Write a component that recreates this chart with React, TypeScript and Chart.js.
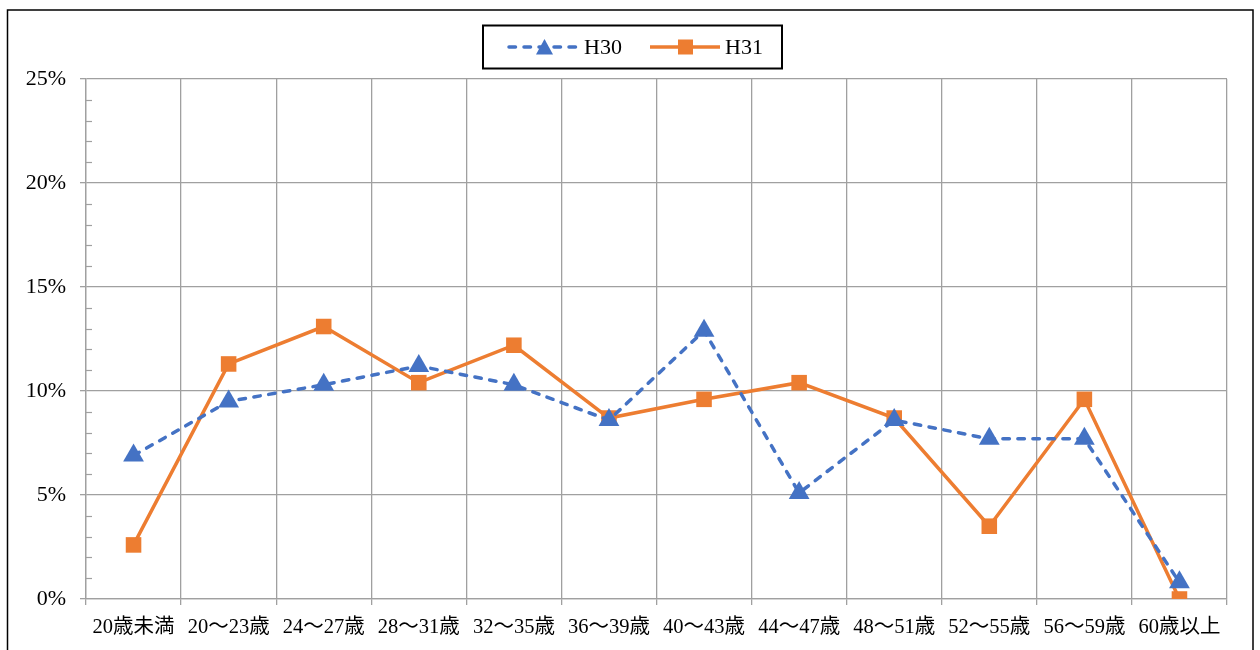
import React, { useEffect, useRef } from "react";
import { Chart, registerables } from "chart.js";

Chart.register(...registerables);

const categories = [
  "20歳未満",
  "20～23歳",
  "24～27歳",
  "28～31歳",
  "32～35歳",
  "36～39歳",
  "40～43歳",
  "44～47歳",
  "48～51歳",
  "52～55歳",
  "56～59歳",
  "60歳以上",
];
const seriesH30Label = "H30";
const seriesH31Label = "H31";
const seriesH30 = [6.9, 9.5, 10.3, 11.2, 10.3, 8.6, 12.9, 5.1, 8.6, 7.7, 7.7, 0.8];
const seriesH31 = [2.6, 11.3, 13.1, 10.4, 12.2, 8.7, 9.6, 10.4, 8.7, 3.5, 9.6, 0.0];
const yMax = 25;
const yStep = 5;
const yMinorStep = 1;

const FONT = "'Liberation Serif', 'Noto Sans CJK JP', serif";
const BLUE = "#4472C4";
const ORANGE = "#ED7D31";
const GRID = "#a0a0a0";

const decorPlugin = {
  id: "decor",
  afterDraw(chart: any) {
    const ctx = chart.ctx;
    const y = chart.scales.y;
    const area = chart.chartArea;
    ctx.save();
    // minor ticks on y axis (inside)
    ctx.strokeStyle = GRID;
    ctx.lineWidth = 1.2;
    for (let v = 0; v <= yMax + 1e-9; v += yMinorStep) {
      if (Math.abs(v % yStep) < 1e-9) continue;
      const py = Math.round(y.getPixelForValue(v)) + 0.5;
      ctx.beginPath();
      ctx.moveTo(area.left, py);
      ctx.lineTo(area.left + 6, py);
      ctx.stroke();
    }
    // outer border
    ctx.strokeStyle = "#000";
    ctx.lineWidth = 1.5;
    ctx.strokeRect(7.5, 10, 1245.5, 700);

    // legend
    const bx = 483, by = 25.5, bw = 299, bh = 43;
    ctx.fillStyle = "#fff";
    ctx.fillRect(bx, by, bw, bh);
    ctx.strokeStyle = "#000";
    ctx.lineWidth = 2;
    ctx.strokeRect(bx, by, bw, bh);
    const cy = 47;
    const items = [
      { ds: chart.data.datasets[0], x0: 509, x1: 579 },
      { ds: chart.data.datasets[1], x0: 650, x1: 720 },
    ];
    for (const it of items) {
      const ds = it.ds;
      ctx.save();
      ctx.strokeStyle = ds.borderColor;
      ctx.lineWidth = ds.borderWidth;
      ctx.setLineDash(ds.borderDash || []);
      ctx.lineCap = ds.borderCapStyle || "butt";
      ctx.beginPath();
      ctx.moveTo(it.x0, cy);
      ctx.lineTo(it.x1, cy);
      ctx.stroke();
      ctx.restore();
      const mx = (it.x0 + it.x1) / 2 + 0.5;
      ctx.fillStyle = ds.pointBackgroundColor;
      ctx.beginPath();
      if (ds.pointStyle === "triangle") {
        ctx.moveTo(mx, cy - 8);
        ctx.lineTo(mx + 8.5, cy + 7.5);
        ctx.lineTo(mx - 8.5, cy + 7.5);
        ctx.closePath();
      } else {
        ctx.rect(mx - 7.5, cy - 7.5, 15, 15);
      }
      ctx.fill();
      ctx.fillStyle = "#000";
      ctx.font = `22px ${FONT}`;
      ctx.textBaseline = "middle";
      ctx.textAlign = "left";
      ctx.fillText(ds.label, it.x1 + 5, cy + 1);
    }
    ctx.restore();
  },
};

export default function App() {
  const ref = useRef<HTMLCanvasElement | null>(null);
  useEffect(() => {
    if (!ref.current) return;
    const chart = new Chart(ref.current, {
      type: "line",
      data: {
        labels: categories,
        datasets: [
          {
            label: seriesH30Label,
            data: seriesH30,
            borderColor: BLUE,
            backgroundColor: BLUE,
            borderWidth: 3.5,
            borderDash: [6.5, 8.5],
            borderCapStyle: "round",
            pointStyle: "triangle",
            pointRadius: 12,
            pointHoverRadius: 12,
            pointBackgroundColor: BLUE,
            pointBorderColor: BLUE,
            pointBorderWidth: 0,
            tension: 0,
          },
          {
            label: seriesH31Label,
            data: seriesH31,
            borderColor: ORANGE,
            backgroundColor: ORANGE,
            borderWidth: 3.5,
            pointStyle: "rect",
            pointRadius: 11,
            pointHoverRadius: 11,
            pointBackgroundColor: ORANGE,
            pointBorderColor: ORANGE,
            pointBorderWidth: 0,
            tension: 0,
          },
        ],
      },
      options: {
        animation: false,
        responsive: false,
        maintainAspectRatio: false,
        layout: { padding: { left: 0, right: 33, top: 79, bottom: 0 } },
        plugins: {
          legend: { display: false },
          tooltip: { enabled: false },
        },
        scales: {
          x: {
            type: "category",
            offset: true,
            grid: {
              offset: true,
              color: GRID,
              lineWidth: 1.3,
              tickLength: 6,
              drawTicks: true,
            },
            border: { color: GRID, width: 1.3 },
            ticks: {
              color: "#000",
              font: { family: FONT, size: 20.5 },
              padding: 10,
              maxRotation: 0,
              autoSkip: false,
            },
            afterFit(scale: any) {
              scale.height = 51;
            },
          },
          y: {
            min: 0,
            max: yMax,
            ticks: {
              stepSize: yStep,
              color: "#000",
              font: { family: FONT, size: 22 },
              padding: 14,
              callback: (v: any) => `${v}%`,
            },
            grid: { color: GRID, lineWidth: 1.3, tickLength: 6 },
            border: { color: GRID, width: 1.3 },
            afterFit(scale: any) {
              scale.width = 86;
            },
          },
        },
      },
      plugins: [decorPlugin],
    });
    return () => chart.destroy();
  }, []);
  return (
    <div
      style={{
        position: "fixed",
        left: 0,
        top: 0,
        width: 1260,
        height: 650,
        overflow: "hidden",
        background: "#fff",
      }}
    >
      <canvas ref={ref} width={1260} height={650} style={{ display: "block" }} />
    </div>
  );
}
